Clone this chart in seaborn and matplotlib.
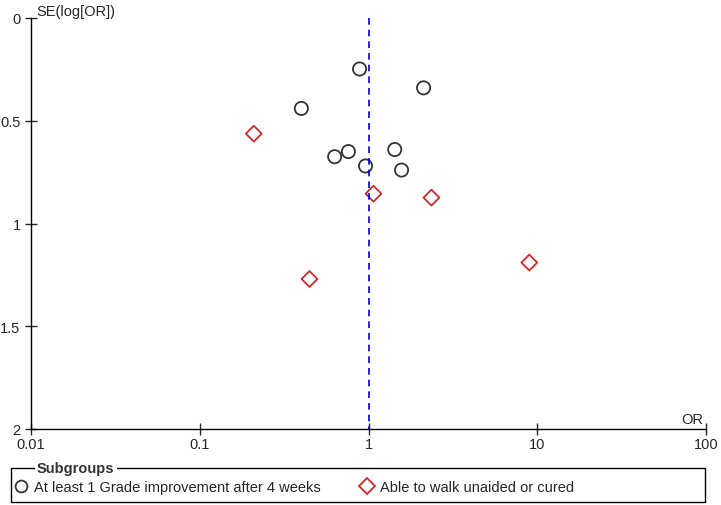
import matplotlib
matplotlib.use("Agg")
from matplotlib import pyplot as plt
from matplotlib.patches import Rectangle
from matplotlib.lines import Line2D
import seaborn as sns
import pandas as pd

# subgroup 1: at least 1 grade improvement after 4 weeks
grade_or = [0.885, 2.12, 0.40, 0.63, 0.76, 0.96, 1.43, 1.57]
grade_se = [0.248, 0.34, 0.44, 0.675, 0.65, 0.72, 0.64, 0.74]

# subgroup 2: able to walk unaided or cured
walk_or = [0.209, 1.07, 2.36, 0.447, 8.97]
walk_se = [0.563, 0.855, 0.874, 1.27, 1.19]

label_grade = "At least 1 Grade improvement after 4 weeks"
label_walk = "Able to walk unaided or cured"

x_ticks = [0.01, 0.1, 1, 10, 100]
x_tick_labels = ["0.01", "0.1", "1", "10", "100"]
y_ticks = [0, 0.5, 1, 1.5, 2]
y_tick_labels = ["0", "0.5", "1", "1.5", "2"]

df = pd.DataFrame({
    "OR": grade_or + walk_or,
    "SE": grade_se + walk_se,
    "group": [label_grade] * len(grade_or) + [label_walk] * len(walk_or),
})

sns.set_style("white")
plt.rcParams['font.family'] = ['Liberation Sans', 'DejaVu Sans']
fs = 10.5

W, H = 721, 506
fig = plt.figure(figsize=(W / 100, H / 100), dpi=100)
ax = fig.add_axes([31 / W, 1 - 430 / H, 675 / W, 411 / H])

colors = {label_grade: "#333333", label_walk: "#d62728"}
markers = {label_grade: "o", label_walk: "D"}
for g in [label_grade, label_walk]:
    sub = df[df["group"] == g]
    sns.scatterplot(data=sub, x="OR", y="SE", ax=ax, marker=markers[g],
                    s=90 if g == label_grade else 65, facecolors="none",
                    edgecolor=colors[g], linewidth=1.3, legend=False)

ax.plot([1, 1], [0, 2], color="#0000dd", linestyle=(0, (4, 3)), linewidth=1.2)

ax.set_xscale("log")
ax.set_xlim(0.01, 100)
ax.set_ylim(2, 0)
ax.set_xticks(x_ticks)
ax.set_xticklabels(x_tick_labels)
ax.set_yticks(y_ticks)
ax.set_yticklabels(y_tick_labels)
ax.minorticks_off()
ax.tick_params(direction="inout", length=8, width=1, labelsize=fs, left=True, bottom=True)
ax.tick_params(axis="x", pad=2)
ax.tick_params(axis="y", pad=3.5)
ax.set_xlabel("")
ax.set_ylabel("")
for side in ["top", "right"]:
    ax.spines[side].set_visible(False)
for side in ["left", "bottom"]:
    ax.spines[side].set_color("black")
    ax.spines[side].set_linewidth(1)

ax.text(0.0107, 0.0, "SE(log[OR])", fontsize=fs, va="bottom", ha="left")
ax.text(96, 1.985, "OR", fontsize=fs, va="bottom", ha="right")

# legend box with the title sitting on the top border
box = Rectangle((11 / W, 1 - 503 / H), 694 / W, 34 / H, transform=fig.transFigure,
                fill=False, edgecolor="black", linewidth=1)
fig.patches.append(box)
fig.text(37 / W, 1 - 469 / H, "Subgroups", fontsize=fs, fontweight="bold",
         va="center", ha="left", color="#333333",
         bbox=dict(facecolor="white", edgecolor="none", pad=1.5))
handles = [
    Line2D([], [], marker="o", linestyle="none", markerfacecolor="none",
           markeredgecolor=colors[label_grade], markersize=8.5, markeredgewidth=1.3),
    Line2D([], [], marker="D", linestyle="none", markerfacecolor="none",
           markeredgecolor=colors[label_walk], markersize=8.5, markeredgewidth=1.3),
]
fig.legend(handles, [label_grade, label_walk], loc="center left",
           bbox_to_anchor=(12 / W, 1 - 488 / H), ncol=2, frameon=False,
           fontsize=fs, handletextpad=0.3, columnspacing=2.6, handlelength=1.2,
           borderpad=0, borderaxespad=0)

fig.savefig("out.png", dpi=100)
